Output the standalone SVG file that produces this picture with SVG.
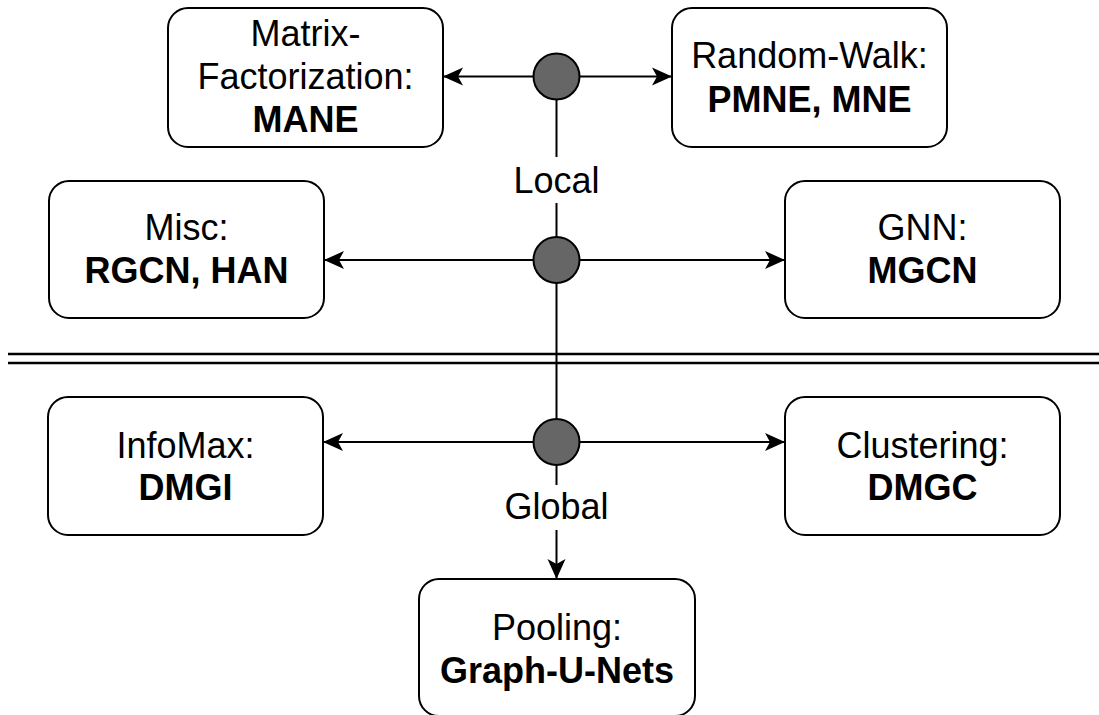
<svg xmlns="http://www.w3.org/2000/svg" width="1099" height="715" viewBox="0 0 1099 715">
<style>
.box{fill:#fff;stroke:#000;stroke-width:2}
.t{font-family:"Liberation Sans",Arial,sans-serif;font-size:36px;fill:#000;text-anchor:middle}
.b{font-weight:bold}
.ln{stroke:#000;stroke-width:2;fill:none}
.arr{stroke:#000;stroke-width:2;fill:none;marker-end:url(#ah)}
.hub{fill:#666;stroke:#000;stroke-width:2}
.sep{stroke:#000;stroke-width:2.5}
</style>
<defs>
<marker id="ah" markerUnits="userSpaceOnUse" viewBox="0 0 20 20" markerWidth="20" markerHeight="20" refX="20" refY="10" orient="auto">
<path d="M0,1 L20,10 L0,19 L5,10 Z" fill="#000"/>
</marker>
</defs>
<rect width="1099" height="715" fill="#fff"/>
<g id="separator">
<line class="sep" x1="8" y1="354" x2="1099" y2="354"/>
<line class="sep" x1="8" y1="363" x2="1099" y2="363"/>
</g>
<g id="connectors">
<line class="ln" x1="556.5" y1="76.5" x2="556.5" y2="157"/>
<line class="ln" x1="556.5" y1="203" x2="556.5" y2="485"/>
<line class="arr" x1="556.5" y1="530" x2="556.5" y2="579"/>
<line class="arr" x1="556.5" y1="76.5" x2="443" y2="76.5"/>
<line class="arr" x1="556.5" y1="76.5" x2="672" y2="76.5"/>
<line class="arr" x1="556.5" y1="260" x2="324" y2="260"/>
<line class="arr" x1="556.5" y1="260" x2="785" y2="260"/>
<line class="arr" x1="556.5" y1="442" x2="323" y2="442"/>
<line class="arr" x1="556.5" y1="442" x2="785" y2="442"/>
<text class="t" x="556.5" y="193">Local</text>
<text class="t" x="556.5" y="519">Global</text>
</g>
<g id="hub-top"><circle class="hub" cx="556.5" cy="76.5" r="23"/></g>
<g id="hub-mid"><circle class="hub" cx="556.5" cy="260" r="23"/></g>
<g id="hub-bottom"><circle class="hub" cx="556.5" cy="442" r="23"/></g>
<g id="matrix-factorization">
<rect class="box" x="168" y="8" width="275" height="139" rx="20"/>
<text class="t" x="305.5" y="46">Matrix-</text>
<text class="t" x="305.5" y="89">Factorization:</text>
<text class="t b" x="305.5" y="132">MANE</text>
</g>
<g id="random-walk">
<rect class="box" x="672" y="8" width="275" height="139" rx="20"/>
<text class="t" x="809.5" y="68">Random-Walk:</text>
<text class="t b" x="809.5" y="112">PMNE, MNE</text>
</g>
<g id="misc">
<rect class="box" x="49" y="181" width="275" height="137" rx="20"/>
<text class="t" x="186.5" y="240">Misc:</text>
<text class="t b" x="186.5" y="283">RGCN, HAN</text>
</g>
<g id="gnn">
<rect class="box" x="785" y="181" width="275" height="137" rx="20"/>
<text class="t" x="922.5" y="240">GNN:</text>
<text class="t b" x="922.5" y="283">MGCN</text>
</g>
<g id="infomax">
<rect class="box" x="48" y="397" width="275" height="138" rx="20"/>
<text class="t" x="185.5" y="458">InfoMax:</text>
<text class="t b" x="185.5" y="500">DMGI</text>
</g>
<g id="clustering">
<rect class="box" x="785" y="397" width="275" height="138" rx="20"/>
<text class="t" x="922.5" y="458">Clustering:</text>
<text class="t b" x="922.5" y="500">DMGC</text>
</g>
<g id="pooling">
<rect class="box" x="419" y="579" width="276" height="137" rx="20"/>
<text class="t" x="557" y="640">Pooling:</text>
<text class="t b" x="557" y="683">Graph-U-Nets</text>
</g>
</svg>
